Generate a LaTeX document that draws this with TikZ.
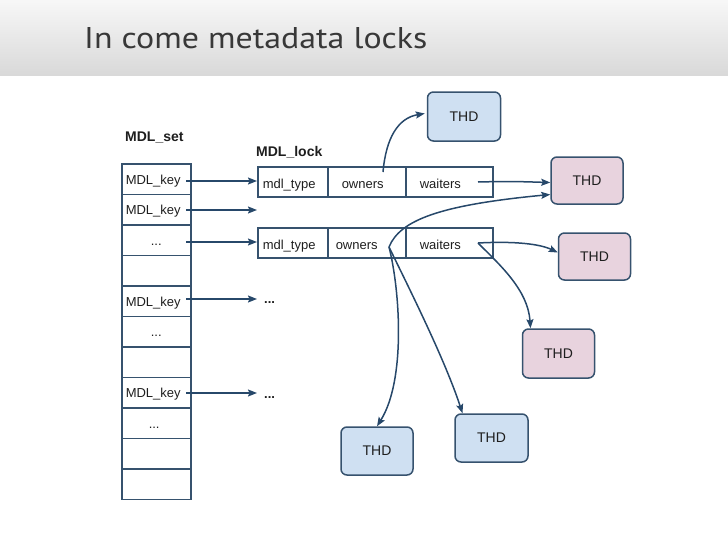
\documentclass[tikz,border=0pt]{standalone}
\usepackage{fontspec}
\setmainfont{Liberation Sans}
\newfontfamily\titlefont{PT Sans}
\usetikzlibrary{arrows.meta}
\definecolor{edgec}{HTML}{27486A}
\definecolor{boxline}{HTML}{36526E}
\definecolor{bluef}{HTML}{CFE0F2}
\definecolor{pinkf}{HTML}{E8D3DE}
\definecolor{titlec}{HTML}{383838}
\definecolor{txt}{HTML}{1E1E1E}
\begin{document}
\begin{tikzpicture}[x=1pt,y=-1pt,
  mcell/.style={draw=boxline, line width=1.5pt, anchor=north west, minimum height=30.5pt,
     text width=61pt, inner xsep=4pt, inner ysep=0pt, align=left,
     text height=12.5pt, text depth=2pt,
     font=\fontsize{13}{15}\selectfont, text=txt},
  mdots/.style={mcell, align=center},
  lcell/.style={draw=boxline, line width=1.5pt, anchor=north west, minimum height=30pt,
     inner ysep=0pt, align=left, text height=15pt, text depth=2pt,
     font=\fontsize{13}{15}\selectfont, text=txt},
  head/.style={font=\bfseries\fontsize{14}{16}\selectfont, text=txt, inner sep=0pt, anchor=west},
  thd/.style={draw=boxline, line width=1.5pt, rounded corners=6pt, minimum width=#1,
     font=\fontsize{14}{16}\selectfont, text=txt},
  thdblue/.style={thd=73pt, fill=bluef},
  thdpink/.style={thd=72pt, fill=pinkf},
  conn/.style={draw=edgec, line width=1.5pt, -{Stealth[length=9pt,width=7pt,inset=1.5pt]}},
  more/.style={font=\bfseries\fontsize{13}{15}\selectfont, text=txt, inner sep=0pt}
]
\useasboundingbox (0,0) rectangle (728,546);
\shade[top color=white!97!black, bottom color=white!85!black] (0,0) rectangle (728,75);
\node[anchor=base west, inner sep=0pt, text=titlec, font=\titlefont\fontsize{30}{34}\selectfont] (title) at (84,48) {\scalebox{1.13}[1]{In come metadata locks}};

% MDL_set column
\node[head] (setlabel) at (125,138) {MDL\_set};
\node[mcell] (k1) at (121,163) {MDL\_key};
\node[mcell] (k2) at (121,193.5) {MDL\_key};
\node[mdots] (k3) at (121,224) {...};
\node[mcell] (k4) at (121,254.5) {};
\node[mcell] (k5) at (121,285) {MDL\_key};
\node[mdots] (k6) at (121,315.5) {...};
\node[mcell] (k7) at (121,346) {};
\node[mcell] (k8) at (121,376.5) {MDL\_key};
\node[mcell] (k9) at (121,407) {\hspace*{23pt}...};
\node[mcell] (k10) at (121,437.5) {};
\node[mcell] (k11) at (121,468) {};

% MDL_lock
\node[head] (locklabel) at (256,152) {MDL\_lock};
\node[lcell, text width=60pt, inner xsep=5pt] (l1m) at (257,166) {mdl\_type};
\node[lcell, text width=50pt, inner xsep=14pt] (l1o) at (327,166) {owners};
\node[lcell, text width=59pt, inner xsep=14pt] (l1w) at (405,166) {waiters};
\node[lcell, text width=60pt, inner xsep=5pt] (l2m) at (257,227) {mdl\_type};
\node[lcell, text width=62pt, inner xsep=8pt] (l2o) at (327,227) {owners};
\node[lcell, text width=59pt, inner xsep=14pt] (l2w) at (405,227) {waiters};

% THD boxes
\node[thdblue, minimum height=49pt] (tA) at (464,116.5) {THD};
\node[thdpink, minimum height=47pt] (tB) at (587,180.5) {THD};
\node[thdpink, minimum height=47pt] (tC) at (594.5,256.5) {THD};
\node[thdpink, minimum height=49pt] (tD) at (558.5,353.5) {THD};
\node[thdblue, minimum height=48pt, minimum width=72pt] (tE) at (377,451) {THD};
\node[thdblue, minimum height=48pt] (tF) at (491.5,438) {THD};

% dots after arrows
\node[more, anchor=west] (m5) at (264,303) {...};
\node[more, anchor=west] (m8) at (264,398) {...};

% ports
\coordinate (p1) at (186,181);
\coordinate (p2) at (186,210);
\coordinate (p3) at (186,242);
\coordinate (p5) at (186,299);
\coordinate (p8) at (186,393);
\coordinate (e2) at (257,210);
\coordinate (e5) at (257,299);
\coordinate (e8) at (257,393);
\coordinate (o1) at (383,172);
\coordinate (w1) at (478,182);
\coordinate (o2) at (389,247);
\coordinate (w2) at (478,243);

% key arrows
\draw[conn] (p1) -- (l1m.west |- p1);
\draw[conn] (p2) -- (e2);
\draw[conn] (p3) -- (l2m.west |- p3);
\draw[conn] (p5) -- (e5);
\draw[conn] (p8) -- (e8);

% lock arrows
\draw[conn] (o1) .. controls (386,138) and (398,118) .. ([xshift=-2pt,yshift=3pt]tA.west);
\draw[conn] (w1) .. controls (515,181) and (530,182) .. ([yshift=-2pt]tB.west);
\draw[conn] (o2) .. controls (400,220) and (440,205) .. ([yshift=-14pt]tB.west);
\draw[conn] (o2) .. controls (400,290) and (406,380) .. (tE.north);
\draw[conn] (o2) .. controls (410,290) and (445,360) .. ([xshift=-29pt]tF.north);
\draw[conn] (w2) .. controls (515,241) and (540,244) .. ([yshift=4pt]tC.west);
\draw[conn] (w2) .. controls (500,265) and (528,290) .. ([xshift=-28pt]tD.north);
\end{tikzpicture}
\end{document}
